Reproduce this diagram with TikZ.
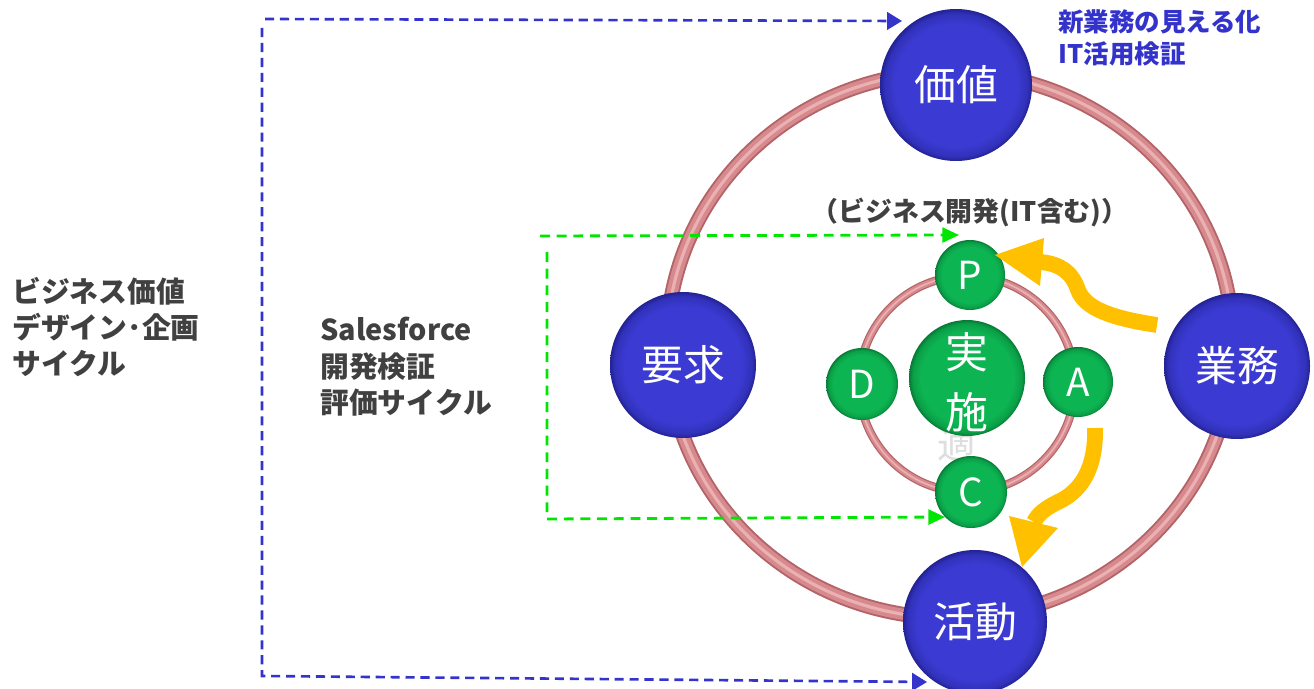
\documentclass[tikz,border=0pt]{standalone}
\usepackage{fontspec}
\setmainfont{Noto Sans CJK JP}
\usetikzlibrary{arrows.meta}
\definecolor{blueA}{HTML}{3B3BD3}
\definecolor{blueB}{HTML}{3131BA}
\definecolor{blueC}{HTML}{222294}
\definecolor{greenA}{HTML}{0DB452}
\definecolor{greenB}{HTML}{0A9E47}
\definecolor{greenC}{HTML}{067A35}
\definecolor{ringDark}{HTML}{B46468}
\definecolor{ringMid}{HTML}{D68A8D}
\definecolor{ringLight}{HTML}{EBB0B2}
\definecolor{lineBlue}{HTML}{3434CC}
\definecolor{lineGreen}{HTML}{00E600}
\definecolor{arrowOrange}{HTML}{FFC000}
\definecolor{txtGray}{HTML}{404040}
\definecolor{txtBlue}{HTML}{3333CC}
\pgfdeclareradialshading{btnblue}{\pgfpoint{0bp}{0bp}}{color(0bp)=(blueA); color(20bp)=(blueA); color(23.5bp)=(blueB); color(25bp)=(blueC); color(50bp)=(blueC)}
\pgfdeclareradialshading{btngreen}{\pgfpoint{0bp}{0bp}}{color(0bp)=(greenA); color(20bp)=(greenA); color(23.5bp)=(greenB); color(25bp)=(greenC); color(50bp)=(greenC)}
\begin{document}
\begin{tikzpicture}[x=0.02cm,y=-0.02cm,
  bluebtn/.style={circle, inner sep=0pt, shading=btnblue, text=white,
    font=\fontsize{23.8pt}{28pt}\selectfont},
  greenbtn/.style={circle, inner sep=0pt, shading=btngreen, text=white,
    font=\fontsize{22pt}{26pt}\selectfont},
  bluedash/.style={draw=lineBlue, line width=1.5pt, dash pattern=on 5.2pt off 3.3pt,
    -{Triangle[length=8.5pt,width=10pt]}},
  greendash/.style={draw=lineGreen, line width=1.6pt, dash pattern=on 5.6pt off 3.9pt,
    -{Triangle[length=9.5pt,width=8.5pt]}},
  orangeband/.style={draw=arrowOrange, line width=9pt, line cap=butt},
  graytext/.style={text=txtGray, inner sep=0pt, font=\bfseries\fontsize{16.4pt}{20.7pt}\selectfont},
  bluetext/.style={text=txtBlue, inner sep=0pt, font=\bfseries\fontsize{14.5pt}{18.1pt}\selectfont}
]
\useasboundingbox (0,0) rectangle (1314,689);

% outer ring
\draw[ringDark, line width=8.5pt] (950,345) ellipse [x radius=283, y radius=273];
\draw[ringMid, line width=6.3pt] (950,345) ellipse [x radius=283, y radius=273];
\draw[ringLight, line width=1.8pt] (950,345) ellipse [x radius=283, y radius=273];

% inner ring
\draw[ringDark, line width=4.8pt] (967,384) circle [radius=108];
\draw[ringMid, line width=3.4pt] (967,384) circle [radius=108];
\draw[ringLight, line width=1pt] (967,384) circle [radius=108];

% half-hidden character
\node[text=black!13, inner sep=0pt, font=\fontsize{22pt}{24pt}\selectfont] (hidden) at (957,444) {適};

% dashed connectors (green)
\coordinate (gTopStart) at (540,236);
\coordinate (gTopEnd) at (959,235);
\coordinate (gBotStart) at (547,252);
\coordinate (gBotEnd) at (945,517);
\draw[greendash] (gTopStart) -- (gTopEnd);
\draw[greendash] (gBotStart) -- (547,519) -- (gBotEnd);

% dashed connectors (blue)
\coordinate (bTopStart) at (265,19);
\coordinate (bTopEnd) at (902,21);
\coordinate (bBotStart) at (262,28);
\coordinate (bBotEnd) at (927,682);
\draw[bluedash] (bTopStart) -- (bTopEnd);
\draw[bluedash] (bBotStart) -- (262,676) -- (bBotEnd);

% blue nodes
\node[bluebtn, minimum size=152*0.02cm] (kachi) at (956,85) {価値};
\node[bluebtn, minimum size=146*0.02cm] (youkyu) at (683,365) {要求};
\node[bluebtn, minimum size=146*0.02cm] (gyomu) at (1237,366) {業務};
\node[bluebtn, minimum size=144*0.02cm] (katsudo) at (975,622) {活動};

% green nodes
\node[greenbtn, minimum size=116*0.02cm] (jisshi) at (967,378) {};
\node[text=white, inner sep=0pt, align=center, font=\fontsize{24.4pt}{34pt}\selectfont] (jisshitxt) at (967,382) {実\\施};
\node[greenbtn, minimum size=70*0.02cm] (P) at (970,275) {P};
\node[greenbtn, minimum size=72*0.02cm] (D) at (862,384) {D};
\node[greenbtn, minimum size=70*0.02cm] (A) at (1078,382) {A};
\node[greenbtn, minimum size=72*0.02cm] (C) at (971,492) {C};

% orange arrows
\coordinate (o1s) at (1157,325);
\coordinate (o1e) at (1041,262);
\draw[orangeband] (o1s) .. controls (1110,318) and (1085,308) .. (1078,290)
   .. controls (1072,272) and (1060,264) .. (o1e);
\fill[arrowOrange] (995,255) -- (1044,238) -- (1040,286) -- cycle;
\coordinate (o2s) at (1095,428);
\coordinate (o2e) at (1034,522);
\draw[orangeband] (o2s) .. controls (1096,470) and (1080,490) .. (1062,500)
   .. controls (1045,508) and (1038,514) .. (o2e);
\fill[arrowOrange] (1022,567) -- (1009,516) -- (1058,528) -- cycle;

% texts
\node[graytext, anchor=west, align=left] (leftlbl) at (12,327) {ビジネス価値\\デザイン･企画\\サイクル};
\node[graytext, anchor=west, align=left] (sflbl) at (320,367) {Salesforce\\開発検証\\評価サイクル};
\node[bluetext, anchor=west, align=left] (newlbl) at (1058,38) {新業務の見える化\\IT活用検証};
\node[text=txtGray, inner sep=0pt, font=\bfseries\fontsize{15.3pt}{18pt}\selectfont] (bizlbl) at (970,213) {（ビジネス開発(IT含む)）};
\end{tikzpicture}
\end{document}
